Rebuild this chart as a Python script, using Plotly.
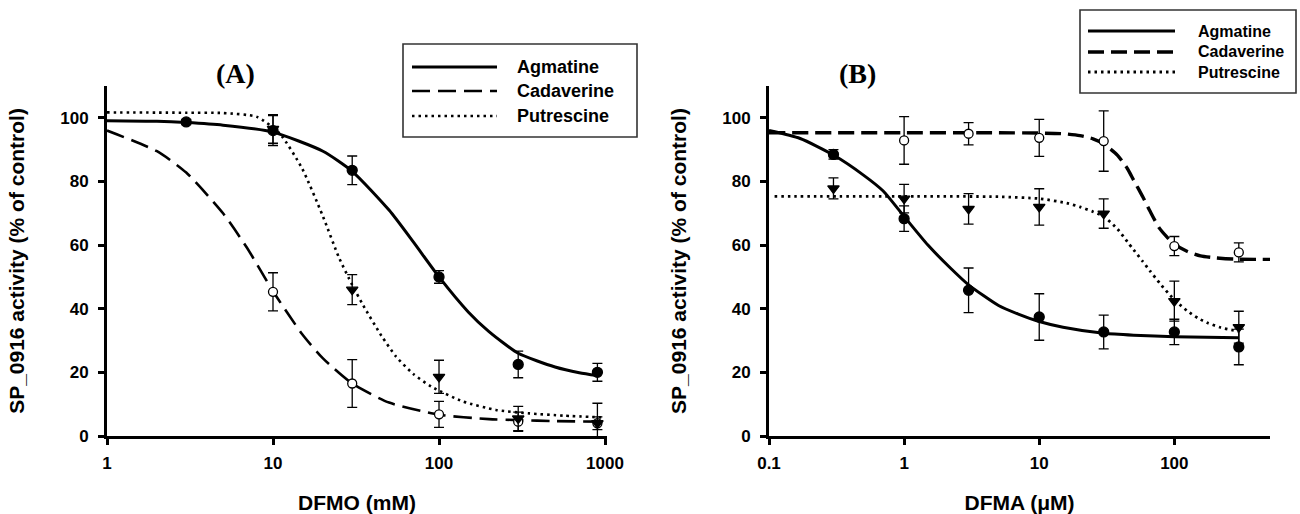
import plotly.graph_objects as go

W, H = 1300, 514
ML, MR, MT, MB = 60, 20, 20, 78

# ---------------- Panel A (DFMO, mM) ----------------
dfmo_ticks = [1, 10, 100, 1000]
a_agm_x = [3, 10, 30, 100, 300, 900]
a_agm_y = [98.7, 96.0, 83.5, 50.0, 22.5, 20.0]
a_agm_err = [0.8, 4.7, 4.5, 2.0, 4.2, 2.8]
a_cad_x = [10, 30, 100, 300, 900]
a_cad_y = [45.3, 16.5, 6.8, 4.5, 4.0]
a_cad_err = [6.0, 7.5, 4.1, 3.0, 2.0]
a_put_x = [10, 30, 100, 300, 900]
a_put_y = [96.5, 46.0, 18.6, 5.5, 4.0]
a_put_err = [4.5, 4.7, 5.2, 3.8, 6.3]

# fitted curves
a_agm_cx = [1, 2, 3, 5, 10, 20, 30, 50, 70, 100, 150, 200, 300, 500, 700, 900]
a_agm_cy = [99.1, 98.9, 98.5, 97.7, 95.5, 89.5, 83.2, 71.0, 61.0, 50.0, 39.0, 32.8, 26.0, 21.7, 19.9, 19.0]
a_cad_cx = [1, 2, 3, 5, 7, 10, 15, 20, 30, 50, 100, 200, 300, 500, 1000]
a_cad_cy = [96.0, 89.5, 82.8, 70.0, 59.0, 45.5, 32.0, 24.4, 16.5, 10.5, 6.7, 5.3, 5.0, 4.7, 4.5]
a_put_cx = [1, 3, 5, 8, 11, 15, 20, 25, 30, 35, 45, 55, 70, 90, 140, 220, 350, 560, 1000]
a_put_cy = [101.7, 101.6, 101.5, 100.3, 95.0, 84.0, 69.0, 56.0, 47.5, 41.0, 31.5, 25.0, 19.5, 15.5, 10.8, 8.2, 7.1, 6.4, 5.8]

# ---------------- Panel B (DFMA, uM) ----------------
dfma_ticks = [0.1, 1, 10, 100]
b_agm_x = [0.3, 1, 3, 10, 30, 100, 300]
b_agm_y = [88.5, 68.3, 45.8, 37.4, 32.7, 32.7, 28.0]
b_agm_err = [1.5, 4.0, 7.0, 7.3, 5.3, 4.0, 5.6]
b_cad_x = [1, 3, 10, 30, 100, 300]
b_cad_y = [92.9, 95.0, 93.7, 92.7, 59.7, 57.7]
b_cad_err = [7.5, 3.5, 5.8, 9.5, 3.0, 3.0]
b_put_x = [0.3, 1, 3, 10, 30, 100, 300]
b_put_y = [77.8, 74.6, 71.4, 72.0, 69.9, 42.4, 34.2]
b_put_err = [3.3, 4.5, 4.8, 5.7, 4.6, 6.3, 5.0]

b_agm_cx = [0.1, 0.17, 0.3, 0.5, 0.7, 1, 1.5, 2.2, 3, 5, 7, 10, 15, 30, 50, 100, 300]
b_agm_cy = [96.0, 93.5, 88.3, 82.0, 77.0, 69.0, 60.0, 52.8, 47.5, 41.0, 38.3, 36.0, 34.2, 32.3, 31.7, 31.2, 30.9]
b_cad_cx = [0.1, 1, 5, 10, 15, 20, 25, 30, 38, 45, 50, 58, 66, 77, 88, 100, 125, 156, 200, 275, 515]
b_cad_cy = [95.3, 95.3, 95.3, 95.2, 95.0, 94.4, 93.4, 91.8, 88.2, 84.0, 80.4, 75.4, 70.7, 65.5, 62.6, 60.3, 58.0, 56.6, 56.0, 55.6, 55.5]
b_put_cx = [0.11, 1, 5, 10, 16, 20, 25, 30, 38, 45, 50, 58, 66, 78, 90, 105, 124, 150, 175, 220, 300]
b_put_cy = [75.3, 75.3, 75.2, 74.6, 73.2, 72.0, 70.5, 69.0, 65.0, 61.0, 58.5, 55.0, 51.9, 48.0, 44.9, 42.0, 39.4, 37.0, 35.6, 34.1, 32.9]

y_ticks = [0, 20, 40, 60, 80, 100]
series_names = ["Agmatine", "Cadaverine", "Putrescine"]

FONT = "Liberation Sans, Arial, sans-serif"
SERIF = "Liberation Serif, Times New Roman, serif"

dashA = "18px,8px"
dashB = "16px,7px"
dot = "2.5px,4px"

fig = go.Figure()

def curve(x, y, dash, width, xa, ya):
    fig.add_trace(go.Scatter(x=x, y=y, mode="lines", xaxis=xa, yaxis=ya,
                             line=dict(color="black", width=width, dash=dash, shape="spline", smoothing=0.6),
                             showlegend=False, hoverinfo="skip"))

def points(x, y, err, symbol, fill, xa, ya, size=10):
    fig.add_trace(go.Scatter(x=x, y=y, mode="markers", xaxis=xa, yaxis=ya,
                             marker=dict(symbol=symbol, size=size, color=fill,
                                         line=dict(color="black", width=1.3)),
                             error_y=dict(type="data", array=err, visible=True,
                                          color="black", thickness=1.3, width=5),
                             showlegend=False))

# Panel A
curve(a_agm_cx, a_agm_cy, "solid", 3, "x", "y")
curve(a_cad_cx, a_cad_cy, dashA, 2.6, "x", "y")
curve(a_put_cx, a_put_cy, dot, 2.6, "x", "y")
points(a_cad_x, a_cad_y, a_cad_err, "circle", "white", "x", "y", 9)
points(a_put_x, a_put_y, a_put_err, "triangle-down", "black", "x", "y", 10)
points(a_agm_x, a_agm_y, a_agm_err, "circle", "black", "x", "y", 10)

# Panel B
curve(b_agm_cx, b_agm_cy, "solid", 3, "x2", "y2")
curve(b_cad_cx, b_cad_cy, dashB, 3.4, "x2", "y2")
curve(b_put_cx, b_put_cy, dot, 2.8, "x2", "y2")
points(b_cad_x, b_cad_y, b_cad_err, "circle", "white", "x2", "y2", 9)
points(b_put_x, b_put_y, b_put_err, "triangle-down", "black", "x2", "y2", 10)
points(b_agm_x, b_agm_y, b_agm_err, "circle", "black", "x2", "y2", 10)

PW = W - ML - MR
PH = H - MT - MB

def px(x):
    return (x - ML) / PW

def py(y):
    return (H - MB - y) / PH

tickfont = dict(family=FONT, size=17, color="black", weight="bold")
titlefont = dict(family=FONT, size=21, color="black", weight="bold")

common_x = dict(type="log", showgrid=False, zeroline=False, showline=True, linecolor="black",
                linewidth=3, ticks="outside", ticklen=6, tickwidth=2.5, tickcolor="black",
                tickfont=tickfont, ticklabelstandoff=4, automargin=False)
common_y = dict(range=[0, 110], showgrid=False, zeroline=False, showline=True, linecolor="black",
                linewidth=3, ticks="outside", ticklen=6, tickwidth=2.5, tickcolor="black",
                tickfont=tickfont, tickvals=y_ticks, ticklabelstandoff=6, automargin=False)

ydom = [py(436), py(86)]

fig.update_layout(
    width=W, height=H, autosize=False,
    margin=dict(l=ML, r=MR, t=MT, b=MB, autoexpand=False),
    paper_bgcolor="white", plot_bgcolor="white",
    showlegend=False,
    xaxis=dict(common_x, domain=[px(107), px(607)], range=[0, 3.012], anchor="y",
               tickvals=dfmo_ticks, ticktext=[str(v) for v in dfmo_ticks],
               title=dict(text="DFMO (mM)", font=titlefont, standoff=25)),
    yaxis=dict(common_y, domain=ydom, anchor="x",
               title=dict(text="SP_0916 activity (% of control)", font=titlefont, standoff=30)),
    xaxis2=dict(common_x, domain=[px(769), px(1270)], range=[-1, 2.708], anchor="y2",
                tickvals=dfma_ticks, ticktext=["0.1", "1", "10", "100"],
                title=dict(text="DFMA (\u03bcM)", font=titlefont, standoff=25)),
    yaxis2=dict(common_y, domain=ydom, anchor="x2",
                title=dict(text="SP_0916 activity (% of control)", font=titlefont, standoff=30)),
)

annotations = [
    dict(text="<b>(A)</b>", x=px(235), y=py(73), xref="paper", yref="paper", showarrow=False,
         xanchor="center", yanchor="middle",
         font=dict(family=SERIF, size=28, color="black")),
    dict(text="<b>(B)</b>", x=px(857), y=py(73), xref="paper", yref="paper", showarrow=False,
         xanchor="center", yanchor="middle",
         font=dict(family=SERIF, size=28, color="black")),
]
shapes = []

# legends (drawn as keys in boxes)
legend_specs = [
    dict(box=(403, 637, 44, 137), lx=(412, 497), tx=515, rows=(67, 91, 116), fs=18,
         styles=[("solid", 3), (dashA, 2.6), (dot, 2.6)]),
    dict(box=(1080, 1296, 10, 93), lx=(1088, 1175), tx=1196, rows=(31, 52, 72), fs=16,
         styles=[("solid", 3), (dashB, 3.4), (dot, 2.8)]),
]
for spec in legend_specs:
    bx0, bx1, by0, by1 = spec["box"]
    shapes.append(dict(type="rect", xref="paper", yref="paper", x0=px(bx0), x1=px(bx1),
                       y0=py(by1), y1=py(by0), line=dict(color="#333333", width=1.6),
                       fillcolor="white", layer="above"))
    for name, ry, (dash, w) in zip(series_names, spec["rows"], spec["styles"]):
        shapes.append(dict(type="line", xref="paper", yref="paper", x0=px(spec["lx"][0]),
                           x1=px(spec["lx"][1]), y0=py(ry), y1=py(ry),
                           line=dict(color="black", width=w, dash=dash), layer="above"))
        annotations.append(dict(text="<b>" + name + "</b>", x=px(spec["tx"]), y=py(ry),
                                xref="paper", yref="paper", xanchor="left", yanchor="middle",
                                showarrow=False,
                                font=dict(family=FONT, size=spec["fs"], color="black")))

fig.update_layout(annotations=annotations, shapes=shapes)

fig.write_html("out.html",
               config={"displayModeBar": False},
               post_script="document.body.style.margin='0px';document.body.style.overflow='hidden';")
